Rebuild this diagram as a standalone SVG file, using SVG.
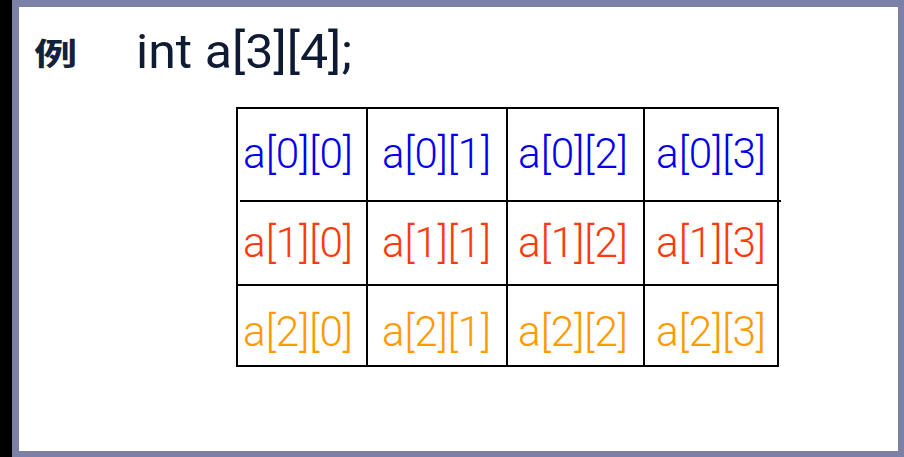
<svg xmlns="http://www.w3.org/2000/svg" width="904" height="457" viewBox="0 0 904 457">
<style>
.cell{font-family:Roboto,"Liberation Sans",Arial,sans-serif;font-weight:300;font-size:42px}
.r0{fill:#0000EE}
.r1{fill:#FF3A0A}
.r2{fill:#FF9A00}
.grid line{stroke:#000;stroke-width:2}
</style>
<g id="frame">
<rect x="0" y="0" width="904" height="457" fill="#7A80A6"/>
<rect x="0" y="0" width="12" height="457" fill="#000"/>
<rect x="19" y="7" width="879" height="444" fill="#fff"/>
</g>
<g id="title">
<text transform="translate(34,65) scale(1.4,1)" font-family="Noto Sans CJK SC,sans-serif" font-weight="bold" font-size="31" fill="#14213D">例</text>
<text x="136" y="68" font-family="Roboto,Liberation Sans,Arial,sans-serif" font-weight="400" font-size="48" fill="#0F1B33" textLength="216" lengthAdjust="spacingAndGlyphs">int a[3][4];</text>
</g>
<g id="grid" class="grid">
<line x1="237" y1="108" x2="779" y2="108"/>
<line x1="240" y1="201" x2="781" y2="201"/>
<line x1="237" y1="285" x2="779" y2="285"/>
<line x1="237" y1="366" x2="779" y2="366"/>
<line x1="237" y1="107" x2="237" y2="367"/>
<line x1="367" y1="107" x2="367" y2="367"/>
<line x1="507" y1="107" x2="507" y2="367"/>
<line x1="644" y1="107" x2="644" y2="367"/>
<line x1="778" y1="107" x2="778" y2="367"/>
</g>
<g id="row0" class="cell r0">
<text x="243" y="168" textLength="110" lengthAdjust="spacingAndGlyphs">a[0][0]</text>
<text x="382" y="168" textLength="109" lengthAdjust="spacingAndGlyphs">a[0][1]</text>
<text x="518" y="168" textLength="110" lengthAdjust="spacingAndGlyphs">a[0][2]</text>
<text x="656" y="168" textLength="110" lengthAdjust="spacingAndGlyphs">a[0][3]</text>
</g>
<g id="row1" class="cell r1">
<text x="243" y="257" textLength="110" lengthAdjust="spacingAndGlyphs">a[1][0]</text>
<text x="382" y="257" textLength="109" lengthAdjust="spacingAndGlyphs">a[1][1]</text>
<text x="518" y="257" textLength="110" lengthAdjust="spacingAndGlyphs">a[1][2]</text>
<text x="656" y="257" textLength="110" lengthAdjust="spacingAndGlyphs">a[1][3]</text>
</g>
<g id="row2" class="cell r2">
<text x="243" y="346" textLength="110" lengthAdjust="spacingAndGlyphs">a[2][0]</text>
<text x="382" y="346" textLength="109" lengthAdjust="spacingAndGlyphs">a[2][1]</text>
<text x="518" y="346" textLength="110" lengthAdjust="spacingAndGlyphs">a[2][2]</text>
<text x="656" y="346" textLength="110" lengthAdjust="spacingAndGlyphs">a[2][3]</text>
</g>
</svg>
